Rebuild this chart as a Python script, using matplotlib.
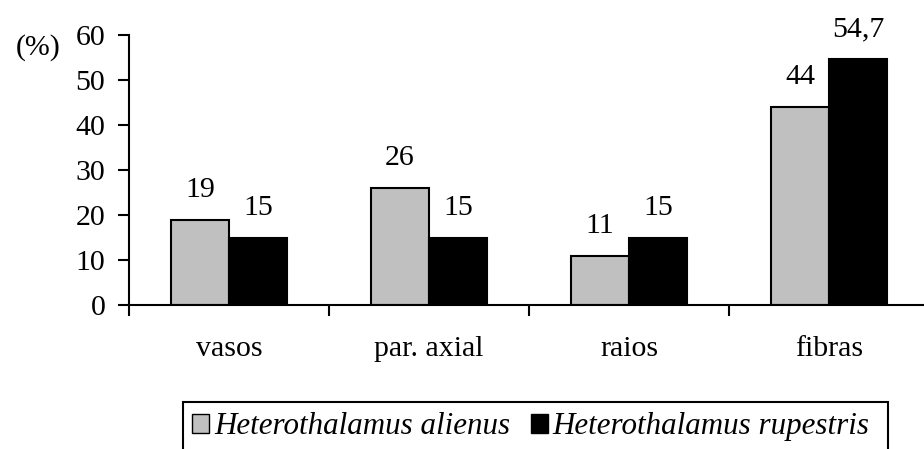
import matplotlib.pyplot as plt
from matplotlib.patches import Rectangle
import numpy as np

plt.rcParams["font.family"] = ["Liberation Serif", "DejaVu Serif"]

categories = ["vasos", "par. axial", "raios", "fibras"]
alienus = [19, 26, 11, 44]
rupestris = [15, 15, 15, 54.7]
alienus_labels = ["19", "26", "11", "44"]
rupestris_labels = ["15", "15", "15", "54,7"]
yticks = [0, 10, 20, 30, 40, 50, 60]

fs = 21.5

fig = plt.figure(figsize=(9.24, 4.49), dpi=100)
ax = fig.add_axes([129 / 924, 1 - 305 / 449, 800 / 924, 270 / 449])

x = np.arange(len(categories)) + 0.5
w = 0.29
b1 = ax.bar(x - w / 2, alienus, w, color="#c0c0c0", edgecolor="black", linewidth=1.5,
            label="Heterothalamus alienus")
b2 = ax.bar(x + w / 2, rupestris, w, color="black", edgecolor="black", linewidth=1.5,
            label="Heterothalamus rupestris")

for bars, labs in [(b1, alienus_labels), (b2, rupestris_labels)]:
    for r, t in zip(bars, labs):
        ax.annotate(t, (r.get_x() + r.get_width() / 2, r.get_height()),
                    xytext=(0, 16.5), textcoords="offset points",
                    ha="center", va="baseline", fontsize=fs)

ax.set_xlim(0, 4)
ax.set_ylim(0, 60)
ax.set_yticks(yticks)
ax.set_xticks([0, 1, 2, 3, 4])
ax.set_xticklabels([])
ax.set_xticks(x, minor=True)
ax.set_xticklabels(categories, minor=True)
ax.tick_params(axis="x", which="minor", length=0, pad=22, labelsize=fs)
ax.tick_params(axis="x", which="major", length=8, width=1.5, direction="out")
ax.tick_params(axis="y", length=8, width=1.5, pad=9, labelsize=fs)

for s in ["top", "right"]:
    ax.spines[s].set_visible(False)
for s in ["left", "bottom"]:
    ax.spines[s].set_linewidth(1.5)

fig.text(38 / 924, 1 - 48 / 449, "(%)", ha="center", va="center", fontsize=fs)

# legend, frame drawn separately (box is wider on the right, runs off the bottom)
leg = fig.legend(loc="upper left", bbox_to_anchor=(183 / 924, 1 - 403 / 449), ncol=2,
                 prop={"style": "italic", "size": 22.3}, frameon=False,
                 handlelength=0.55, handleheight=0.55, handletextpad=0.16,
                 columnspacing=0.65, borderpad=0.3, borderaxespad=0)
for h in leg.legend_handles:
    h.set_linewidth(1.0)
fig.patches.append(Rectangle((183 / 924, -0.05), 705 / 924, 0.05 + 47 / 449,
                             transform=fig.transFigure, fill=False,
                             edgecolor="black", linewidth=1.5))

fig.savefig("out.png", dpi=100)
